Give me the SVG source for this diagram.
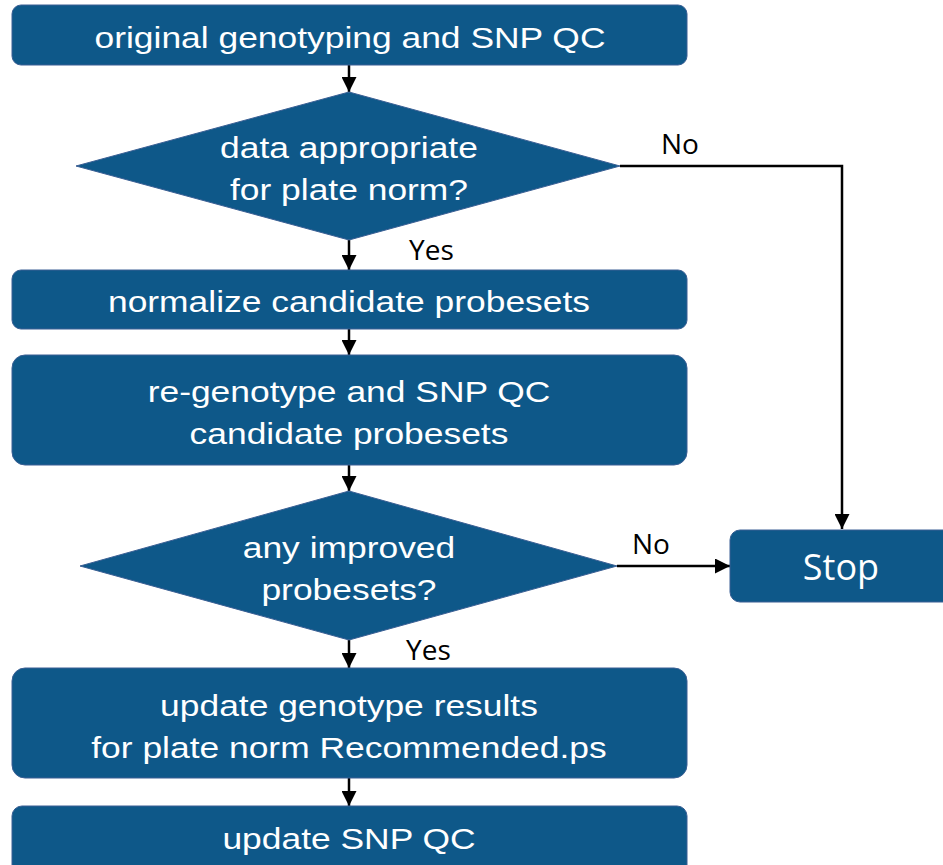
<svg xmlns="http://www.w3.org/2000/svg" width="943" height="865" viewBox="0 0 943 865">
<style>
.n{fill:#0e5889;stroke:#3a5f94;stroke-width:1}
.t{fill:#fff;font-family:"Liberation Sans",Arial,sans-serif;font-size:29.5px;text-anchor:middle}
.s{fill:#fff;font-family:"Open Sans","DejaVu Sans",sans-serif;font-size:36px;text-anchor:middle}
.l{fill:#000;font-family:"Open Sans","DejaVu Sans",sans-serif;font-size:28px}
.c{fill:none;stroke:#000;stroke-width:2.5}
</style>
<defs>
<marker id="a" viewBox="0 0 10 10" refX="10" refY="5" markerWidth="6" markerHeight="6" markerUnits="strokeWidth" orient="auto">
<path d="M0,0 L10,5 L0,10 z" fill="#000"/>
</marker>
</defs>
<g id="connectors">
<path class="c" d="M349,65 V92" marker-end="url(#a)"/>
<path class="c" d="M349,240 V270" marker-end="url(#a)"/>
<path class="c" d="M349,329 V355" marker-end="url(#a)"/>
<path class="c" d="M349,465 V491" marker-end="url(#a)"/>
<path class="c" d="M349,640 V668" marker-end="url(#a)"/>
<path class="c" d="M349,778 V806" marker-end="url(#a)"/>
<path class="c" d="M620,166 H842 V529" marker-end="url(#a)"/>
<path class="c" d="M617,566 H730" marker-end="url(#a)"/>
<text class="l" x="661" y="154">No</text>
<text class="l" x="409" y="260">Yes</text>
<text class="l" x="632" y="554">No</text>
<text class="l" x="406" y="660">Yes</text>
</g>
<g id="n1"><rect class="n" x="12" y="5" width="675" height="60" rx="9"/><text class="t" x="350" y="48" transform="matrix(1.2,0,0,1,-70,0)">original genotyping and SNP QC</text></g>
<g id="n2"><path class="n" d="M349,92 L620,166 L349,240 L76,166 z"/><g transform="matrix(1.2,0,0,1,-69.8,0)"><text class="t" x="349" y="158">data appropriate</text><text class="t" x="349" y="200">for plate norm?</text></g></g>
<g id="n3"><rect class="n" x="12" y="270" width="675" height="59" rx="9"/><text class="t" x="349" y="312" transform="matrix(1.2,0,0,1,-69.8,0)">normalize candidate probesets</text></g>
<g id="n4"><rect class="n" x="12" y="355" width="675" height="110" rx="13"/><g transform="matrix(1.2,0,0,1,-69.8,0)"><text class="t" x="349" y="402">re-genotype and SNP QC</text><text class="t" x="349" y="444">candidate probesets</text></g></g>
<g id="n5"><path class="n" d="M349,491 L617,566 L349,640 L80,566 z"/><g transform="matrix(1.2,0,0,1,-69.8,0)"><text class="t" x="349" y="558">any improved</text><text class="t" x="349" y="600">probesets?</text></g></g>
<g id="n6"><rect class="n" x="730" y="530" width="230" height="72" rx="10"/><text class="s" x="841" y="580">Stop</text></g>
<g id="n7"><rect class="n" x="12" y="668" width="675" height="110" rx="13"/><g transform="matrix(1.2,0,0,1,-69.8,0)"><text class="t" x="349" y="716">update genotype results</text><text class="t" x="349" y="758">for plate norm Recommended.ps</text></g></g>
<g id="n8"><rect class="n" x="12" y="806" width="675" height="80" rx="10"/><text class="t" x="349" y="849" transform="matrix(1.2,0,0,1,-69.8,0)">update SNP QC</text></g>
</svg>
